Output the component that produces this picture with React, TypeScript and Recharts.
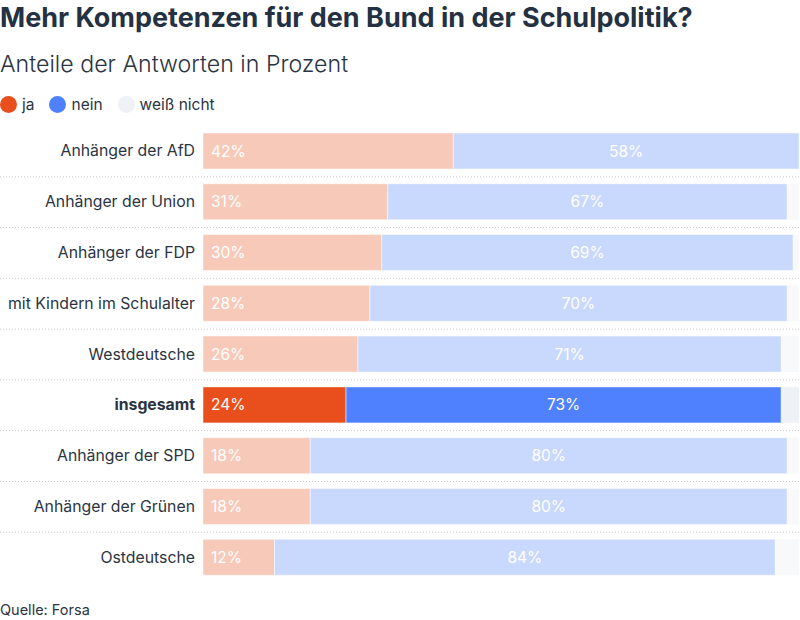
import { Bar, BarChart, Cell, LabelList, XAxis, YAxis } from "recharts";

const groups = [
  "Anhänger der AfD",
  "Anhänger der Union",
  "Anhänger der FDP",
  "mit Kindern im Schulalter",
  "Westdeutsche",
  "insgesamt",
  "Anhänger der SPD",
  "Anhänger der Grünen",
  "Ostdeutsche",
];
const ja = [42, 31, 30, 28, 26, 24, 18, 18, 12];
const nein = [58, 67, 69, 70, 71, 73, 80, 80, 84];
const weissNicht = [0, 2, 1, 2, 3, 3, 2, 2, 4];

const HIGHLIGHT = "insgesamt";
const FONT = "Inter, 'Noto Sans', sans-serif";
const TEXT = "#2b3442";

const COLORS = {
  ja: { on: "#e84f1d", off: "#f7c9b9" },
  nein: { on: "#4f81fe", off: "#c9d8fd" },
  weiss: { on: "#eef1f5", off: "#f8f9fb" },
};

const data = groups.map((group, i) => ({
  group,
  ja: ja[i],
  nein: nein[i],
  weiss: weissNicht[i],
}));

const ROW = 457 / groups.length;

const pct = (v: unknown) => (Number(v) > 0 ? `${v}%` : "");

function GroupTick(props: any) {
  const { y, payload, index } = props;
  const bold = payload.value === HIGHLIGHT;
  return (
    <g>
      <text
        x={195}
        y={y}
        dy={5}
        textAnchor="end"
        fill={TEXT}
        fontSize={15.8}
        fontWeight={bold ? 700 : 400}
        fontFamily={FONT}
      >
        {payload.value}
      </text>
      {index < groups.length - 1 && (
        <line
          x1={0}
          x2={800}
          y1={y + ROW / 2}
          y2={y + ROW / 2}
          stroke="#c8c8c8"
          strokeDasharray="1 2"
        />
      )}
    </g>
  );
}

const legendItems = [
  { label: "ja", color: COLORS.ja.on },
  { label: "nein", color: COLORS.nein.on },
  { label: "weiß nicht", color: COLORS.weiss.on },
];

export default function App() {
  return (
    <div
      style={{
        position: "absolute",
        left: 0,
        top: 0,
        width: 800,
        height: 620,
        background: "#fff",
        fontFamily: FONT,
        color: TEXT,
      }}
    >
      <div
        style={{
          position: "absolute",
          left: 0,
          top: 1,
          fontSize: 27,
          fontWeight: 700,
          color: "#243142",
          whiteSpace: "nowrap",
        }}
      >
        Mehr Kompetenzen für den Bund in der Schulpolitik?
      </div>
      <div
        style={{
          position: "absolute",
          left: 0,
          top: 50,
          fontSize: 23.2,
          fontWeight: 300,
          whiteSpace: "nowrap",
        }}
      >
        Anteile der Antworten in Prozent
      </div>
      <div
        style={{
          position: "absolute",
          left: 0,
          top: 95,
          display: "flex",
          alignItems: "center",
          fontSize: 15.5,
        }}
      >
        {legendItems.map((it) => (
          <div
            key={it.label}
            style={{ display: "flex", alignItems: "center", marginRight: 15 }}
          >
            <span
              style={{
                width: 17,
                height: 17,
                borderRadius: "50%",
                background: it.color,
                display: "inline-block",
                marginRight: 5,
              }}
            />
            <span>{it.label}</span>
          </div>
        ))}
      </div>
      <div style={{ position: "absolute", left: 0, top: 125.5 }}>
        <BarChart
          width={800}
          height={457}
          data={data}
          layout="vertical"
          margin={{ top: 0, right: 1, bottom: 0, left: 0 }}
          barSize={36}
        >
          <XAxis type="number" domain={[0, 100]} hide />
          <YAxis
            type="category"
            dataKey="group"
            width={203}
            axisLine={false}
            tickLine={false}
            interval={0}
            tick={<GroupTick />}
          />
          <Bar dataKey="ja" stackId="a" isAnimationActive={false} stroke="#ffffff" strokeOpacity={0.5}>
            {data.map((d) => (
              <Cell key={d.group} fill={d.group === HIGHLIGHT ? COLORS.ja.on : COLORS.ja.off} />
            ))}
            <LabelList
              dataKey="ja"
              position="insideLeft"
              offset={8}
              formatter={pct}
              fill="#ffffff"
              fontSize={15.5}
              fontFamily={FONT}
            />
          </Bar>
          <Bar dataKey="nein" stackId="a" isAnimationActive={false} stroke="#ffffff" strokeOpacity={0.5}>
            {data.map((d) => (
              <Cell key={d.group} fill={d.group === HIGHLIGHT ? COLORS.nein.on : COLORS.nein.off} />
            ))}
            <LabelList
              dataKey="nein"
              position="center"
              formatter={pct}
              fill="#ffffff"
              fontSize={15.5}
              fontFamily={FONT}
            />
          </Bar>
          <Bar dataKey="weiss" stackId="a" isAnimationActive={false}>
            {data.map((d) => (
              <Cell key={d.group} fill={d.group === HIGHLIGHT ? COLORS.weiss.on : COLORS.weiss.off} />
            ))}
          </Bar>
        </BarChart>
      </div>
      <div style={{ position: "absolute", left: 0, top: 601, fontSize: 14.5 }}>
        Quelle: Forsa
      </div>
    </div>
  );
}
